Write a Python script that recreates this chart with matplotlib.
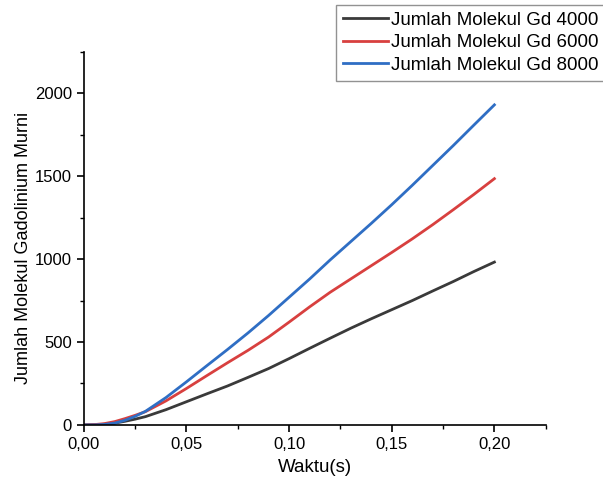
import matplotlib
matplotlib.use('Agg')
import matplotlib.pyplot as plt
from matplotlib.ticker import MultipleLocator, FuncFormatter

# data
waktu = [0.0, 0.005, 0.01, 0.015, 0.02, 0.025, 0.03, 0.04, 0.05, 0.06, 0.07,
         0.08, 0.09, 0.10, 0.11, 0.12, 0.13, 0.14, 0.15, 0.16, 0.17, 0.18,
         0.19, 0.20]
gd_4000 = [0, 1, 4, 11, 22, 35, 50, 92, 140, 188, 235, 287, 340, 400, 462,
           523, 583, 640, 695, 750, 808, 865, 925, 982]
gd_6000 = [0, 2, 8, 20, 38, 58, 80, 145, 220, 298, 375, 450, 530, 620, 712,
           800, 880, 960, 1040, 1122, 1208, 1298, 1390, 1485]
gd_8000 = [0, 0, 3, 11, 28, 52, 82, 165, 260, 358, 455, 555, 660, 770, 880,
           995, 1105, 1215, 1328, 1445, 1565, 1685, 1808, 1930]
labels = ['Jumlah Molekul Gd 4000', 'Jumlah Molekul Gd 6000',
          'Jumlah Molekul Gd 8000']
colors = ['#3a3a3a', '#d8403f', '#2f6ec4']

plt.rcParams['font.family'] = ['Liberation Sans', 'DejaVu Sans']

fig = plt.figure(figsize=(6.03, 4.84), dpi=100)
ax = fig.add_axes([0.139, 0.122, 0.766, 0.771])

for ys, lab, c in zip([gd_4000, gd_6000, gd_8000], labels, colors):
    ax.plot(waktu, ys, color=c, lw=2, label=lab)

ax.set_xlim(0, 0.225)
ax.set_ylim(0, 2250)
ax.xaxis.set_major_locator(MultipleLocator(0.05))
ax.xaxis.set_minor_locator(MultipleLocator(0.025))
ax.yaxis.set_major_locator(MultipleLocator(500))
ax.yaxis.set_minor_locator(MultipleLocator(250))
ax.xaxis.set_major_formatter(FuncFormatter(lambda v, p: f'{v:.2f}'.replace('.', ',')))

for s in ['top', 'right']:
    ax.spines[s].set_visible(False)
for s in ['left', 'bottom']:
    ax.spines[s].set_linewidth(1.2)
ax.tick_params(which='major', direction='out', length=5, width=1.2, labelsize=12)
ax.tick_params(which='minor', direction='out', length=3, width=1.0)

ax.set_xlabel('Waktu(s)', fontsize=13.5, labelpad=5)
ax.set_ylabel('Jumlah Molekul Gadolinium Murni', fontsize=13)
ax.yaxis.set_label_coords(-0.113, 0.475)

leg = fig.legend(loc='upper right', bbox_to_anchor=(1.004, 0.99), fontsize=13.5,
                 frameon=True, fancybox=False, edgecolor='#777777',
                 handlelength=2.4, handletextpad=0.2, labelspacing=0.3,
                 borderpad=0.35, borderaxespad=0)
leg.get_frame().set_linewidth(1.0)

plt.savefig('out.png', dpi=100)
plt.close()
